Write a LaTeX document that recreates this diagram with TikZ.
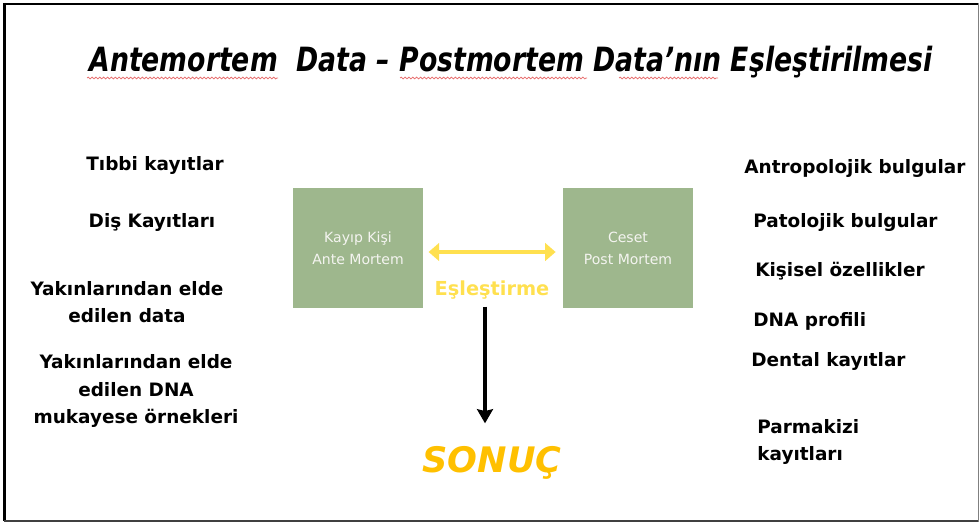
\documentclass[tikz,border=0pt]{standalone}
\usepackage{fontspec}
\setmainfont{DejaVu Sans}
\usetikzlibrary{arrows.meta,decorations.pathmorphing}
\definecolor{boxgreen}{HTML}{9EB78D}
\definecolor{boxtext}{HTML}{F4F4F0}
\definecolor{paleyellow}{HTML}{FFE04F}
\definecolor{gold}{HTML}{FFC000}
\definecolor{wavyred}{HTML}{E87070}
\def\spellmark(#1:#2:#3)
{ \draw[wavyred,line width=0.45pt,decorate,decoration={snake,amplitude=0.5pt,segment length=2.2pt}] (#1,#3) -- (#2,#3); }

\begin{document}
\begin{tikzpicture}[x=0.02cm,y=-0.02cm,
	item/.style={font=\bfseries\fontsize{10.5}{15.5}\selectfont,align=center,inner sep=0pt},
	ritem/.style={item,anchor=west,align=left},
	card/.style={fill=boxgreen,inner sep=0pt,minimum width=2.6cm,minimum height=2.4cm,
		text=boxtext,font=\fontsize{8}{12.5}\selectfont,align=center}]
	\useasboundingbox (0,0) rectangle (980,523);

	%FRAME
	\draw[line width=1.6pt] (4,4) -- (979,4);
	\draw[line width=2pt] (4.5,3) -- (4.5,521);
	\draw[line width=1.4pt,black!75] (4,521) -- (979,521);
	\draw[line width=1pt,gray] (978.5,3) -- (978.5,522);

	%TITLE
	\node[inner sep=0pt,font=\bfseries\itshape\fontsize{19}{22}\selectfont] (title) at (511,62)
		{\scalebox{0.8}[1]{Antemortem\ \ Data – Postmortem Data’nın Eşleştirilmesi}};
	\spellmark(87:278:78)
	\spellmark(400:587:78)
	\spellmark(619:718:78)

	%BOXES
	\node[card] (ante) at (358,248) {Kayıp Kişi\\Ante Mortem};
	\node[card] (post) at (628,248) {Ceset\\Post Mortem};
	\node[inner sep=0pt,text=paleyellow,font=\bfseries\fontsize{11}{13}\selectfont] (match) at (492,290) {Eşleştirme};
	\node[inner sep=0pt,text=gold,font=\bfseries\itshape\fontsize{20}{24}\selectfont] (result) at (492,463) {SONUÇ};

	%ARROWS
	\draw[line width=2.2pt,paleyellow,<->,>={Triangle[length=6pt,width=10pt]},shorten <=3pt,shorten >=4pt] (ante.east |- 0,252) -- (post.west |- 0,252);
	\draw[line width=2.4pt,->,>={Stealth[length=8pt,width=9pt,inset=1pt]},shorten <=4pt,shorten >=13pt] (match.south -| 485,0) -- (result.north -| 485,0);

	%LEFT LABELS
	\node[item] (tibbi) at (155,165) {Tıbbi kayıtlar};
	\node[item] (dis)   at (152,222) {Diş Kayıtları};
	\node[item] (yak)   at (127,302) {Yakınlarından elde\\edilen data};
	\node[item] (dna)   at (136,391) {Yakınlarından elde\\edilen DNA\\mukayese örnekleri};

	%RIGHT LABELS
	\node[ritem] (antro) at (744,168) {Antropolojik bulgular};
	\node[ritem] (pato)  at (753,222) {Patolojik bulgular};
	\node[ritem] (kisi)  at (755,271) {Kişisel özellikler};
	\node[ritem] (prof)  at (753,321) {DNA profili};
	\node[ritem] (dent)  at (751,361) {Dental kayıtlar};
	\node[ritem] (parm)  at (757,442) {Parmakizi\\kayıtları};
\end{tikzpicture}
\end{document}
